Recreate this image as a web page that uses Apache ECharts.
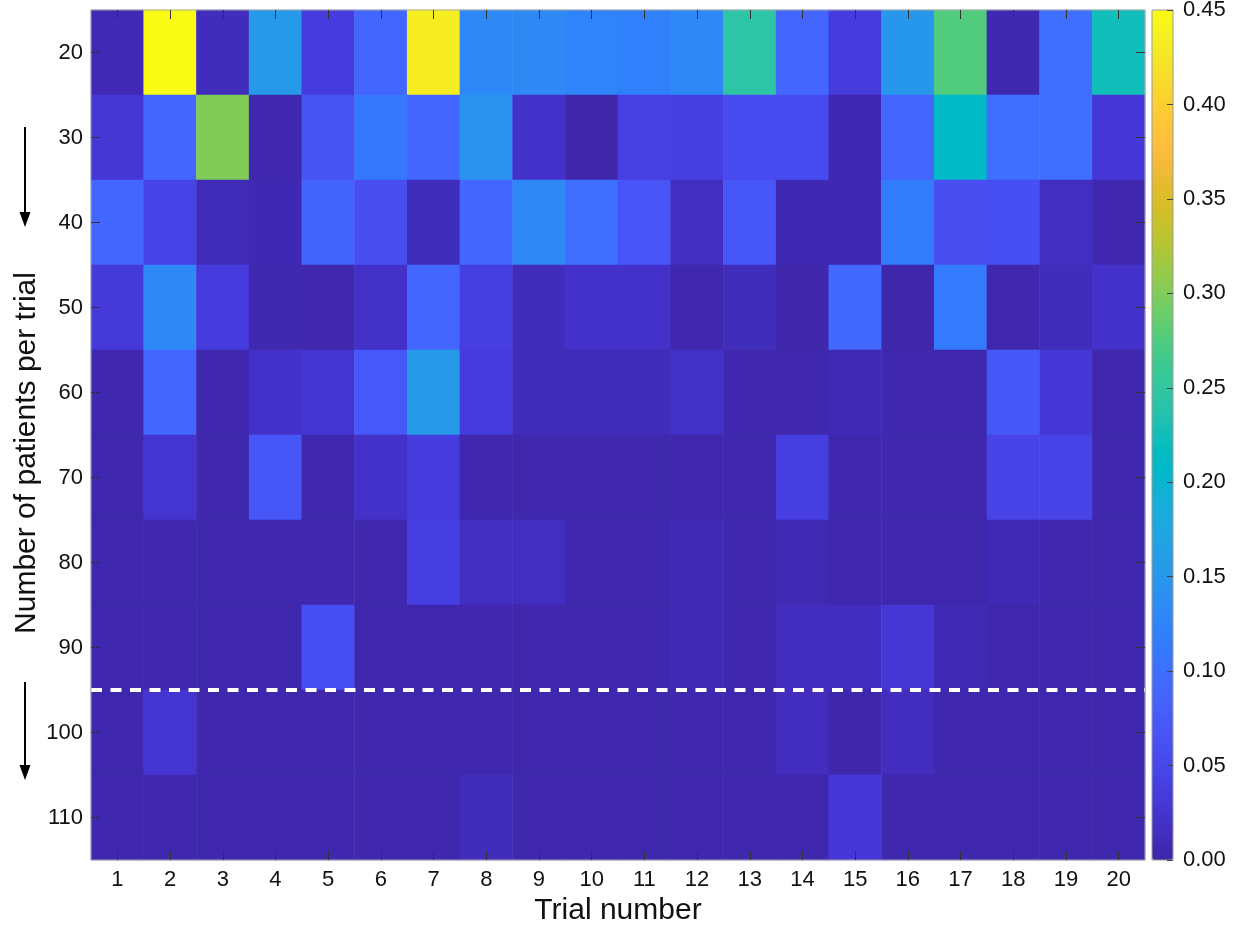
<!DOCTYPE html>
<html>
<head>
<meta charset="utf-8">
<script src="https://cdn.jsdelivr.net/npm/echarts@6/dist/echarts.min.js"></script>
<style>html,body{margin:0;padding:0;background:#fff}#c{width:1241px;height:926px}</style>
</head>
<body>
<div id="c"></div>
<script>
const trials = ['1','2','3','4','5','6','7','8','9','10','11','12','13','14','15','16','17','18','19','20'];
const patients = ['20','30','40','50','60','70','80','90','100','110'];
const colorTicks = [0, 0.05, 0.10, 0.15, 0.20, 0.25, 0.30, 0.35, 0.40, 0.45];
const thresholdPatients = 95;

const p20  = [0.008,0.450,0.012,0.155,0.035,0.090,0.435,0.130,0.132,0.125,0.118,0.130,0.245,0.090,0.035,0.150,0.275,0.005,0.100,0.225];
const p30  = [0.028,0.090,0.300,0.004,0.065,0.110,0.090,0.145,0.020,0.002,0.040,0.038,0.055,0.055,0.006,0.090,0.210,0.100,0.100,0.030];
const p40  = [0.090,0.045,0.010,0.006,0.088,0.058,0.012,0.090,0.130,0.100,0.068,0.015,0.070,0.006,0.006,0.115,0.058,0.060,0.015,0.004];
const p50  = [0.032,0.130,0.035,0.005,0.003,0.018,0.090,0.038,0.012,0.020,0.020,0.003,0.012,0.002,0.092,0.002,0.112,0.003,0.012,0.020];
const p60  = [0.003,0.090,0.003,0.020,0.025,0.072,0.155,0.035,0.010,0.010,0.010,0.018,0.003,0.003,0.008,0.003,0.003,0.070,0.030,0.003];
const p70  = [0.003,0.025,0.003,0.070,0.003,0.020,0.035,0.003,0.003,0.003,0.003,0.003,0.003,0.038,0.003,0.003,0.003,0.045,0.045,0.003];
const p80  = [0.003,0.003,0.003,0.003,0.003,0.003,0.038,0.014,0.014,0.003,0.003,0.007,0.003,0.007,0.003,0.003,0.003,0.008,0.003,0.003];
const p90  = [0.003,0.003,0.003,0.003,0.060,0.003,0.003,0.003,0.003,0.003,0.003,0.007,0.003,0.013,0.013,0.028,0.007,0.003,0.003,0.003];
const p100 = [0.003,0.025,0.003,0.003,0.003,0.003,0.003,0.003,0.003,0.003,0.003,0.003,0.003,0.013,0.001,0.013,0.003,0.003,0.003,0.003];
const p110 = [0.003,0.003,0.003,0.003,0.003,0.003,0.003,0.012,0.003,0.003,0.003,0.003,0.003,0.003,0.030,0.003,0.003,0.003,0.003,0.003];

const rows = [p20,p30,p40,p50,p60,p70,p80,p90,p100,p110];
const data = [];
rows.forEach((r, yi) => r.forEach((v, xi) => data.push([xi, yi, v])));

// MATLAB parula colormap (64 entries)
const parula = [[0.2422,0.1504,0.6603],[0.2504,0.1650,0.7076],[0.2578,0.1818,0.7511],[0.2647,0.1978,0.7952],[0.2706,0.2147,0.8364],[0.2751,0.2342,0.8710],[0.2783,0.2559,0.8991],[0.2803,0.2782,0.9221],[0.2813,0.3006,0.9414],[0.2810,0.3228,0.9579],[0.2795,0.3447,0.9717],[0.2760,0.3667,0.9829],[0.2699,0.3892,0.9906],[0.2602,0.4123,0.9952],[0.2440,0.4358,0.9988],[0.2206,0.4603,0.9973],[0.1963,0.4847,0.9892],[0.1834,0.5074,0.9798],[0.1786,0.5289,0.9682],[0.1764,0.5499,0.9520],[0.1687,0.5703,0.9359],[0.1540,0.5902,0.9218],[0.1460,0.6091,0.9079],[0.1380,0.6276,0.8973],[0.1248,0.6459,0.8883],[0.1113,0.6635,0.8763],[0.0952,0.6798,0.8598],[0.0689,0.6948,0.8394],[0.0297,0.7082,0.8163],[0.0036,0.7203,0.7917],[0.0067,0.7312,0.7660],[0.0433,0.7411,0.7394],[0.0964,0.7500,0.7120],[0.1408,0.7584,0.6842],[0.1717,0.7670,0.6554],[0.1938,0.7758,0.6251],[0.2161,0.7843,0.5923],[0.2470,0.7918,0.5567],[0.2906,0.7973,0.5188],[0.3406,0.8008,0.4789],[0.3909,0.8029,0.4354],[0.4456,0.8024,0.3909],[0.5044,0.7993,0.3480],[0.5616,0.7942,0.3045],[0.6174,0.7876,0.2612],[0.6720,0.7793,0.2227],[0.7242,0.7698,0.1910],[0.7738,0.7598,0.1646],[0.8203,0.7498,0.1535],[0.8634,0.7406,0.1596],[0.9035,0.7330,0.1774],[0.9393,0.7288,0.2100],[0.9728,0.7298,0.2394],[0.9956,0.7434,0.2371],[0.9970,0.7659,0.2199],[0.9952,0.7893,0.2028],[0.9892,0.8136,0.1885],[0.9786,0.8386,0.1766],[0.9676,0.8639,0.1643],[0.9610,0.8890,0.1537],[0.9597,0.9135,0.1423],[0.9628,0.9373,0.1265],[0.9691,0.9606,0.1064],[0.9769,0.9839,0.0805]]
  .map(c => 'rgb(' + c.map(x => Math.round(x * 255)).join(',') + ')');

const FONT = 'Liberation Sans, Arial, Helvetica, sans-serif';
const TXT = '#111';
const tickStyle = { show: true, inside: true, length: 9, alignWithLabel: true, lineStyle: { color: '#333', width: 1 } };

const chart = echarts.init(document.getElementById('c'), null, { renderer: 'canvas' });
chart.setOption({
  animation: false,
  backgroundColor: '#fff',
  textStyle: { fontFamily: FONT },
  grid: [
    { left: 91, top: 10, width: 1054, height: 850, outerBoundsMode: 'none', containLabel: false, show: true, borderColor: '#aaa', borderWidth: 1, backgroundColor: 'transparent', z: 10 },
    { left: 91, top: 10, width: 1054, height: 850, outerBoundsMode: 'none', containLabel: false },
    { left: 1152, top: 10, width: 21, height: 850, outerBoundsMode: 'none', containLabel: false, show: true, borderColor: '#999', borderWidth: 1, backgroundColor: 'transparent', z: 10 }
  ],
  xAxis: [
    { type: 'category', gridIndex: 0, data: trials, position: 'bottom', z: 10,
      axisLine: { show: false }, axisTick: tickStyle, splitLine: { show: false },
      axisLabel: { fontSize: 22, color: TXT, margin: 9, fontFamily: FONT },
      name: 'Trial number', nameLocation: 'middle', nameGap: 36, nameMoveOverlap: false,
      nameTextStyle: { fontSize: 30, color: TXT, fontFamily: FONT } },
    { type: 'category', gridIndex: 0, data: trials, position: 'top', z: 10,
      axisLine: { show: false }, axisTick: tickStyle, axisLabel: { show: false }, splitLine: { show: false } },
    { type: 'value', gridIndex: 1, min: 0.5, max: 20.5, show: false },
    { type: 'value', gridIndex: 2, min: 0, max: 1, show: false, axisLine: { onZero: false } }
  ],
  yAxis: [
    { type: 'category', gridIndex: 0, data: patients, inverse: true, position: 'left', z: 10,
      axisLine: { show: false }, axisTick: tickStyle, splitLine: { show: false },
      axisLabel: { fontSize: 22, color: TXT, margin: 8, fontFamily: FONT },
      name: 'Number of patients per trial', nameLocation: 'middle', nameGap: 49, nameRotate: 90, nameMoveOverlap: false,
      nameTextStyle: { fontSize: 30, color: TXT, fontFamily: FONT, padding: [0, 36, 0, 0] } },
    { type: 'category', gridIndex: 0, data: patients, inverse: true, position: 'right', z: 10,
      axisLine: { show: false }, axisTick: tickStyle, axisLabel: { show: false }, splitLine: { show: false } },
    { type: 'value', gridIndex: 1, min: 15, max: 115, inverse: true, show: false },
    { type: 'value', gridIndex: 2, min: 0, max: 0.45, interval: 0.05, position: 'right', z: 10,
      axisLine: { show: false, onZero: false }, splitLine: { show: false },
      axisTick: { show: true, inside: true, length: 6, lineStyle: { color: '#444' } },
      axisLabel: { fontSize: 22, color: TXT, margin: 10, fontFamily: FONT,
        formatter: v => colorTicks.some(t => Math.abs(t - v) < 1e-9) ? v.toFixed(2) : '' } }
  ],
  visualMap: {
    type: 'continuous', min: 0, max: 0.45, seriesIndex: 0,
    orient: 'vertical', left: 1152, top: 10, itemWidth: 21, itemHeight: 850,
    padding: 0, calculable: false, hoverLink: false, text: null, showLabel: false,
    inRange: { color: parula }, z: 1
  },
  series: [
    { type: 'heatmap', xAxisIndex: 0, yAxisIndex: 0, data: data, emphasis: { disabled: true },
      itemStyle: { borderWidth: 0 } },
    { type: 'line', xAxisIndex: 2, yAxisIndex: 2, symbol: 'none', silent: true, z: 5,
      data: [[0.5, thresholdPatients], [20.5, thresholdPatients]],
      lineStyle: { color: '#fff', width: 4, type: [11, 8.5] } },
    { type: 'line', xAxisIndex: 3, yAxisIndex: 3, data: [], symbol: 'none' }
  ],
  graphic: [
    { type: 'line', shape: { x1: 25, y1: 127, x2: 25, y2: 214 }, style: { stroke: '#000', lineWidth: 2 } },
    { type: 'polygon', shape: { points: [[19.5, 212], [30.5, 212], [25, 227]] }, style: { fill: '#000' } },
    { type: 'line', shape: { x1: 25, y1: 682, x2: 25, y2: 767 }, style: { stroke: '#000', lineWidth: 2 } },
    { type: 'polygon', shape: { points: [[19.5, 765], [30.5, 765], [25, 780]] }, style: { fill: '#000' } }
  ]
});
</script>
</body>
</html>
